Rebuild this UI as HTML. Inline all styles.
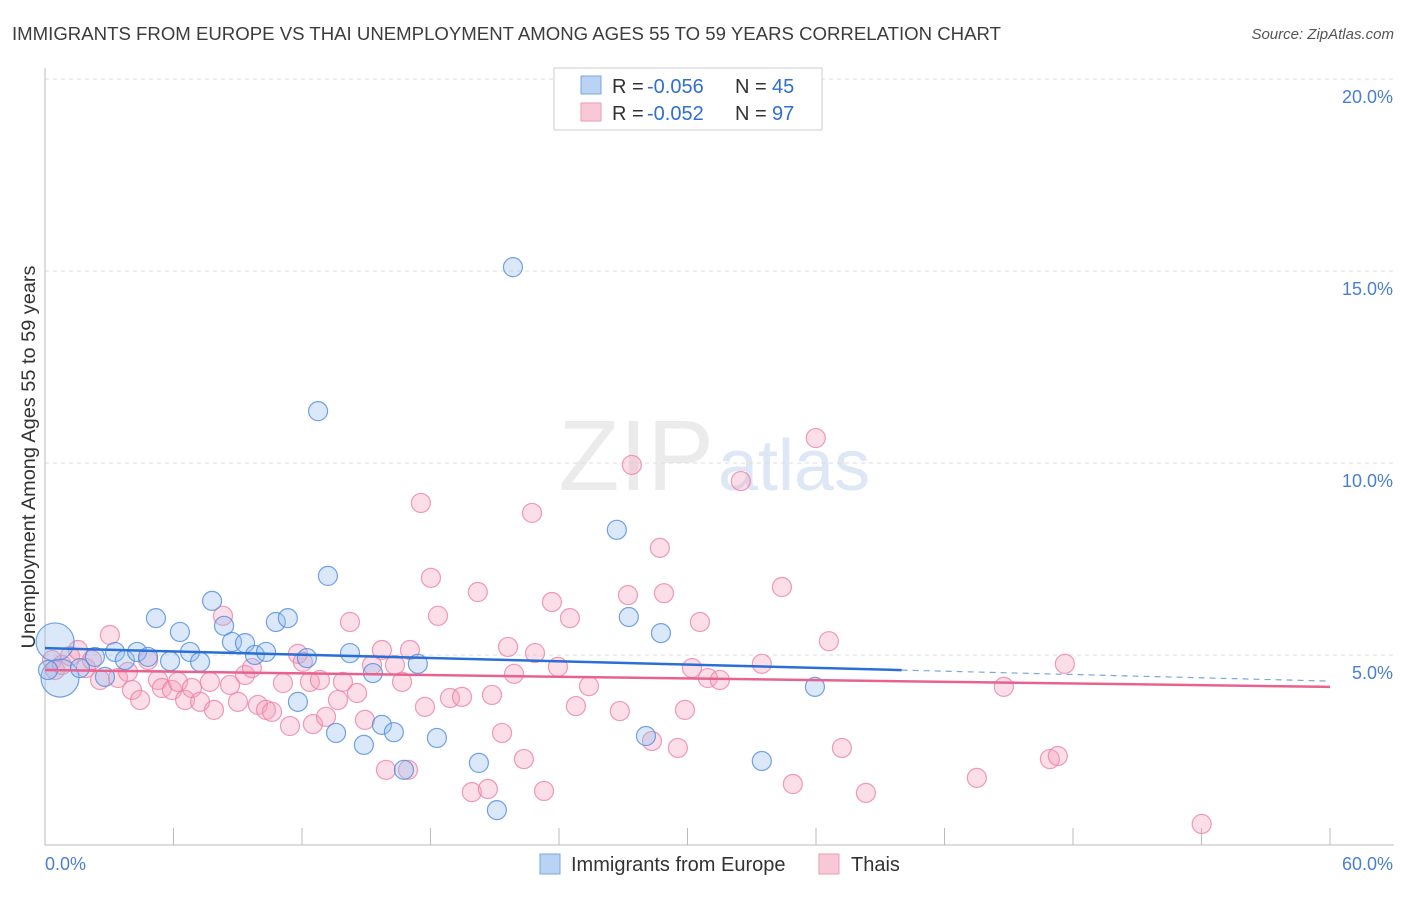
<!DOCTYPE html>
<html><head><meta charset="utf-8"><style>
body{margin:0;background:#fff;font-family:"Liberation Sans",sans-serif}
svg text{font-family:"Liberation Sans",sans-serif}
</style></head><body>
<svg width="1406" height="892">
<text x="12" y="40" font-size="18" fill="#3c3c3c" textLength="989" lengthAdjust="spacingAndGlyphs">IMMIGRANTS FROM EUROPE VS THAI UNEMPLOYMENT AMONG AGES 55 TO 59 YEARS CORRELATION CHART</text>
<text x="1394" y="39" font-size="15" fill="#555" font-style="italic" text-anchor="end">Source: ZipAtlas.com</text>
<text x="714" y="490" font-size="100" fill="#ebebeb" text-anchor="end" font-family="Liberation Serif">ZIP</text>
<text x="718" y="490" font-size="72" fill="#dde7f5">atlas</text>
<g id="grid"></g><g id="axes"></g><g id="marks"></g><g id="trends"></g>
<text transform="translate(35,457) rotate(-90)" font-size="19" fill="#333" text-anchor="middle" textLength="383" lengthAdjust="spacingAndGlyphs">Unemployment Among Ages 55 to 59 years</text>
<text x="45" y="870" font-size="18" fill="#4a7fd0">0.0%</text>
<text x="1393" y="870" font-size="18" fill="#4a7fd0" text-anchor="end">60.0%</text>
<g>
<rect x="554" y="68" width="268" height="62" fill="#fff" stroke="#ccc"/>
<rect x="581" y="76" width="20" height="18" fill="#b9d3f4" stroke="#7aa6e2"/>
<rect x="581" y="103" width="20" height="18" fill="#f9c8d7" stroke="#ee9ab4"/>
<text x="612" y="93" font-size="20" fill="#333">R =</text><text x="647" y="93" font-size="20" fill="#2f6fd0">-0.056</text>
<text x="735" y="93" font-size="20" fill="#333">N =</text><text x="772" y="93" font-size="20" fill="#2f6fd0">45</text>
<text x="612" y="120" font-size="20" fill="#333">R =</text><text x="647" y="120" font-size="20" fill="#2f6fd0">-0.052</text>
<text x="735" y="120" font-size="20" fill="#333">N =</text><text x="772" y="120" font-size="20" fill="#2f6fd0">97</text>
</g>
<g>
<rect x="540" y="854" width="20" height="20" fill="#b9d3f4" stroke="#7aa6e2"/>
<text x="571" y="871" font-size="20" fill="#333">Immigrants from Europe</text>
<rect x="819" y="854" width="20" height="20" fill="#f9c8d7" stroke="#ee9ab4"/>
<text x="851" y="871" font-size="20" fill="#333">Thais</text>
</g>
</svg>
<script>
const yTicks=[5,10,15,20];
const blueX=[0.47,0.70,0.14,1.63,2.33,2.80,3.27,3.73,4.30,4.81,5.18,5.84,6.30,6.77,7.24,7.80,8.36,8.73,9.34,9.80,10.32,10.78,11.34,11.81,12.23,12.75,13.21,13.59,14.24,14.89,15.31,15.73,16.29,16.76,17.41,18.30,20.26,21.10,21.85,26.70,27.26,28.06,28.76,33.47,35.95];
const blueY=[5.34,4.40,4.61,4.66,4.95,4.43,5.08,4.87,5.08,4.95,5.96,4.84,5.60,5.08,4.82,6.41,5.76,5.34,5.31,5.00,5.08,5.86,5.96,3.78,4.92,11.35,7.06,2.97,5.05,2.66,4.53,3.18,2.99,2.01,4.77,2.84,2.19,0.96,15.10,8.26,5.99,2.89,5.57,2.24,4.17];
const pinkX=[0.33,0.47,0.79,1.17,1.54,1.91,2.19,2.57,3.03,3.41,3.87,4.06,4.44,4.81,5.28,5.46,5.93,6.21,6.54,6.86,7.24,7.70,7.89,8.31,8.64,9.01,9.34,9.66,9.94,10.32,10.60,11.11,11.44,11.81,12.04,12.37,12.51,12.84,13.12,13.68,13.91,14.24,14.57,14.94,15.27,15.73,15.92,16.34,16.95,16.67,17.04,17.55,17.74,18.02,18.35,18.91,19.47,19.93,20.21,20.68,20.87,21.34,21.62,21.90,22.36,22.74,22.88,23.30,23.67,23.95,24.51,24.79,25.40,26.84,27.22,27.40,28.34,28.71,28.90,29.55,29.88,30.21,30.58,30.95,31.51,32.49,33.47,34.41,34.92,35.99,36.60,37.21,38.33,43.51,44.77,46.92,47.29,47.62,54.01];
const pinkY=[4.87,4.61,4.74,4.97,5.13,4.66,4.87,4.35,5.52,4.40,4.56,4.09,3.83,4.87,4.35,4.14,4.09,4.30,3.83,4.14,3.78,4.30,3.57,6.02,4.22,3.78,4.48,4.66,3.70,3.57,3.52,4.27,3.15,5.03,4.82,4.30,3.20,4.35,3.39,3.83,4.30,5.86,4.01,3.31,4.74,5.13,2.01,4.74,2.01,4.30,5.13,8.96,3.65,7.01,6.02,3.88,3.91,1.43,6.64,1.51,3.96,2.97,5.21,4.51,2.29,8.70,5.05,1.46,6.38,4.69,5.96,3.67,4.19,3.54,6.56,9.95,2.76,7.79,6.61,2.58,3.57,4.66,5.86,4.40,4.35,9.53,4.77,6.77,1.64,10.65,5.36,2.58,1.41,1.80,4.17,2.29,2.37,4.77,0.60];
const blueTrend=[5.18,4.32];
const pinkTrend=[4.61,4.17];
const NS='http://www.w3.org/2000/svg';
const sx=v=>45+v/60*1285;
const sy=v=>847-v*38.4;
function mk(tag,attrs,parent){const e=document.createElementNS(NS,tag);for(const k in attrs)e.setAttribute(k,attrs[k]);document.getElementById(parent).appendChild(e);return e;}
yTicks.forEach(t=>{
  const l=mk('line',{x1:45,x2:1394,y1:sy(t),y2:sy(t),stroke:'#ddd','stroke-dasharray':'4,4'},'grid');
  
  
  const tx=mk('text',{x:1393,y:sy(t)+24,'font-size':18,fill:'#4a7fd0','text-anchor':'end'},'grid');
  tx.textContent=t.toFixed(1)+'%';
  
  
});
const ax=mk('line',{x1:45,x2:45,y1:68,y2:845,stroke:'#bbb'},'axes');


const bx=mk('line',{x1:45,x2:1394,y1:845,y2:845,stroke:'#bbb'},'axes');


for(let i=0;i<=10;i++){const t=mk('line',{x1:sx(i*6),x2:sx(i*6),y1:828,y2:845,stroke:'#bbb'},'axes');

}
pinkX.forEach((x,i)=>{const c=mk('circle',{cx:sx(x),cy:sy(pinkY[i]),r:9.5,fill:'rgba(244,160,188,0.35)',stroke:'rgba(236,130,165,0.8)','stroke-width':1.2},'marks');

});
blueX.forEach((x,i)=>{const c=mk('circle',{cx:sx(x),cy:sy(blueY[i]),r:i<2?19:9.5,fill:'rgba(150,190,240,0.35)',stroke:'rgba(80,140,220,0.8)','stroke-width':1.2},'marks');

});
const by=x=>blueTrend[0]+(blueTrend[1]-blueTrend[0])*x/60;
const b1=mk('line',{x1:sx(0),y1:sy(by(0)),x2:sx(40),y2:sy(by(40)),stroke:'#2a6fd6','stroke-width':2.5},'trends');


const b2=mk('line',{x1:sx(40),y1:sy(by(40)),x2:sx(60),y2:sy(by(60)),stroke:'#7aa6e2','stroke-width':1.2,'stroke-dasharray':'6,5'},'trends');


const p1=mk('line',{x1:sx(0),y1:sy(pinkTrend[0]),x2:sx(60),y2:sy(pinkTrend[1]),stroke:'#e8628f','stroke-width':2.5},'trends');


</script>
</body></html>
